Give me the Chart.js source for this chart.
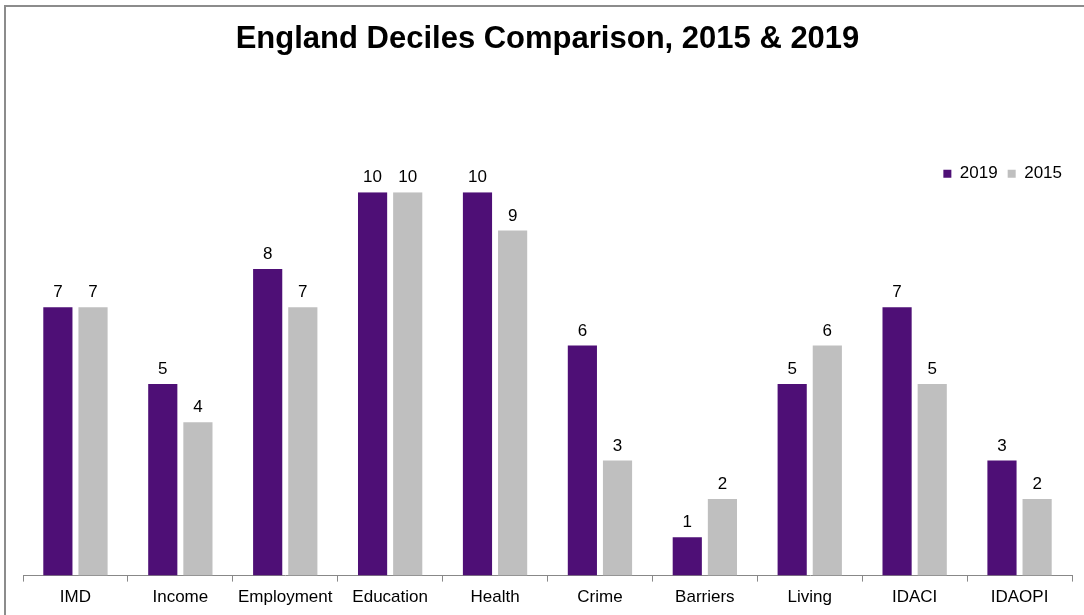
<!DOCTYPE html>
<html>
<head>
<meta charset="utf-8">
<script src="https://cdn.jsdelivr.net/npm/chart.js@4.4.0/dist/chart.umd.min.js"></script>
<style>
  html, body { margin: 0; padding: 0; background: #fff; }
  #wrap { position: relative; width: 1084px; height: 615px; overflow: hidden; }
  #frame { position: absolute; left: 4px; top: 5px; width: 1200px; height: 700px;
           border-top: 2px solid #8c8c8c; border-left: 2px solid #8c8c8c; pointer-events: none; }
</style>
</head>
<body>
<div id="wrap">
  <canvas id="decileChart" width="1084" height="615"></canvas>
  <div id="frame"></div>
</div>
<script>
const categories = ['IMD', 'Income', 'Employment', 'Education', 'Health', 'Crime', 'Barriers', 'Living', 'IDACI', 'IDAOPI'];
const values2019 = [7, 5, 8, 10, 10, 6, 1, 5, 7, 3];
const values2015 = [7, 4, 7, 10, 9, 3, 2, 6, 5, 2];

Chart.defaults.font.family = '"Liberation Sans", Arial, sans-serif';
Chart.defaults.color = '#000';

// value labels above bars
const barLabels = {
    id: 'barLabels',
    afterDatasetsDraw(chart) {
        const ctx = chart.ctx;
        ctx.save();
        ctx.font = '17px "Liberation Sans", Arial, sans-serif';
        ctx.fillStyle = '#000';
        ctx.textAlign = 'center';
        ctx.textBaseline = 'alphabetic';
        chart.data.datasets.forEach(function(ds, i) {
            chart.getDatasetMeta(i).data.forEach(function(bar, j) {
                ctx.fillText(ds.data[j], bar.x, bar.y - 10);
            });
        });
        ctx.restore();
    }
};

const ctx = document.getElementById('decileChart');
const myChart = new Chart(ctx, {
    type: 'bar',
    data: {
        labels: categories,
        datasets: [{
            label: '2019',
            data: values2019,
            backgroundColor: '#4e0f76',
            borderWidth: 0,
            barPercentage: 0.83,
            categoryPercentage: 0.67
        }, {
            label: '2015',
            data: values2015,
            backgroundColor: '#bfbfbf',
            borderWidth: 0,
            barPercentage: 0.83,
            categoryPercentage: 0.67
        }]
    },
    options: {
        responsive: false,
        animation: false,
        layout: {
            padding: { left: 23, right: 12, top: 0, bottom: 1 }
        },
        scales: {
            x: {
                grid: {
                    offset: true,
                    drawOnChartArea: false,
                    drawTicks: true,
                    tickLength: 6,
                    color: '#888'
                },
                border: { color: '#888', width: 1 },
                ticks: {
                    font: { size: 17 },
                    color: '#000',
                    padding: 6,
                    maxRotation: 0
                }
            },
            y: {
                display: false,
                min: 0,
                max: 10
            }
        },
        plugins: {
            title: {
                display: true,
                text: 'England Deciles Comparison, 2015 & 2019',
                font: { size: 31, weight: 'bold' },
                color: '#000',
                padding: { top: 21, bottom: 97 }
            },
            legend: {
                position: 'top',
                align: 'end',
                labels: {
                    boxWidth: 8,
                    boxHeight: 8,
                    font: { size: 17 },
                    color: '#000',
                    padding: 10
                }
            },
            tooltip: { enabled: false }
        }
    },
    plugins: [barLabels]
});
</script>
</body>
</html>
